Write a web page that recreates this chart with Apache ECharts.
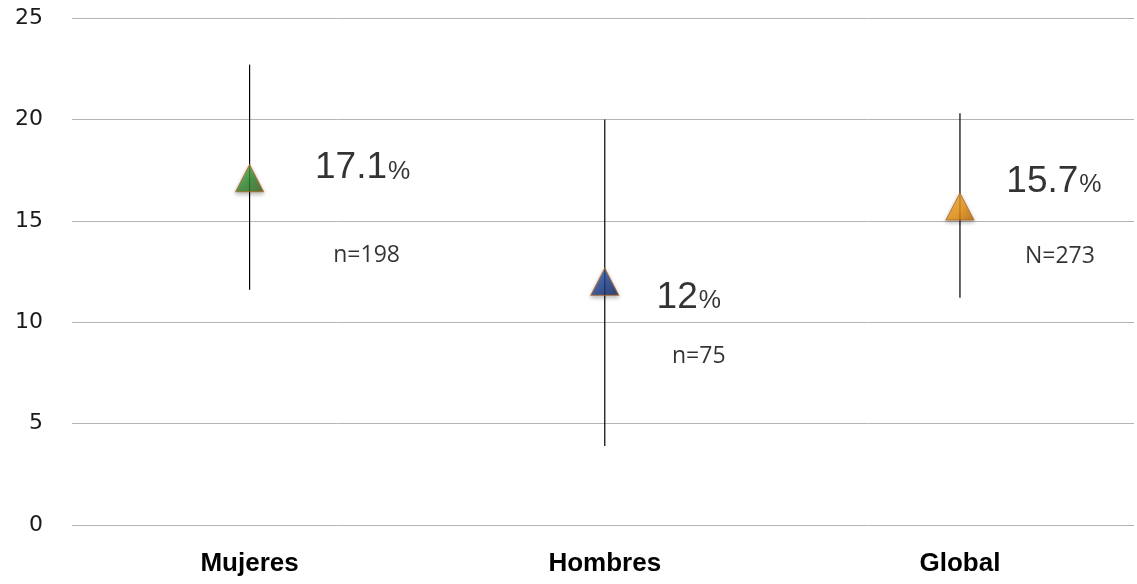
<!DOCTYPE html>
<html><head><meta charset="utf-8">
<script src="https://cdn.jsdelivr.net/npm/echarts@6/dist/echarts.min.js"></script>
<style>html,body{margin:0;padding:0;background:#fff}#c{width:1137px;height:584px}</style>
</head><body><div id="c"></div>
<script>
var categories = ['Mujeres', 'Hombres', 'Global'];
var values = [17.1, 12, 15.7];
var lower = [11.6, 3.9, 11.2];
var upper = [22.7, 20.0, 20.3];
var valueLabels = ['17.1', '12', '15.7'];
var nLabels = ['n=198', 'n=75', 'N=273'];
var yTicks = [0, 5, 10, 15, 20, 25];

var colors = [
  ['#6fd06f', '#2e8a2e', '#3b5a1a'],
  ['#4a78c8', '#1d3f8c', '#0f2256'],
  ['#ffc050', '#f0960f', '#b86a05']
];
var pctOffsets = [[113, -10], [84, 16], [94, -25]];
var nOffsets = [[117, 77], [94, 75], [100, 50]];

var chart = echarts.init(document.getElementById('c'));
chart.setOption({
  animation: false,
  grid: {left: 72, top: 18, right: 0, bottom: 59},
  xAxis: {
    type: 'value', min: -0.5, max: 2.49, interval: 0.5,
    axisLine: {show: false}, axisTick: {show: false}, splitLine: {show: false},
    axisLabel: {fontFamily: 'Liberation Sans', fontWeight: 'bold', fontSize: 26, color: '#000', margin: 26,
      showMinLabel: true, showMaxLabel: true,
      formatter: function (v) {
        var i = Math.round(v);
        return (Math.abs(v - i) < 1e-6 && categories[i] !== undefined) ? categories[i] : '';
      }}
  },
  yAxis: {
    type: 'value', min: 0, max: 25, interval: 5,
    axisLine: {show: false}, axisTick: {show: false},
    splitLine: {lineStyle: {color: '#b4b4b4', width: 1}},
    axisLabel: {fontFamily: 'DejaVu Sans', fontSize: 22, color: '#1a1a1a', margin: 29,
      formatter: function (v) { return yTicks.indexOf(v) >= 0 ? String(v) : ''; }}
  },
  series: [
    {
      type: 'custom',
      data: categories.map(function (c, i) { return [i, lower[i], upper[i]]; }),
      renderItem: function (params, api) {
        var lo = api.coord([api.value(0), api.value(1)]);
        var hi = api.coord([api.value(0), api.value(2)]);
        return {type: 'line', shape: {x1: lo[0], y1: lo[1], x2: hi[0], y2: hi[1]},
          style: {stroke: '#000', lineWidth: 1.2}};
      },
      z: 1
    },
    {
      type: 'scatter',
      symbol: 'triangle', symbolSize: [28, 27],
      z: 3,
      data: values.map(function (v, i) {
        return {
          value: [i, v],
          itemStyle: {
            color: new echarts.graphic.LinearGradient(0, 0, 1, 1, [
              {offset: 0, color: colors[i][0]}, {offset: 0.55, color: colors[i][1]}, {offset: 1, color: colors[i][2]}
            ]),
            borderColor: '#b5651d', borderWidth: 1,
            shadowColor: 'rgba(0,0,0,0.35)', shadowBlur: 4, shadowOffsetY: 2
          },
          label: {
            show: true, position: 'inside', offset: pctOffsets[i],
            formatter: '{a|' + valueLabels[i] + '}{b|%}',
            rich: {
              a: {fontFamily: 'Liberation Sans', fontSize: 37, color: '#000'},
              b: {fontFamily: 'Liberation Sans', fontSize: 25, color: '#000', padding: [7, 0, 0, 1]}
            }
          }
        };
      })
    },
    {
      type: 'scatter', symbolSize: 0, silent: true,
      data: values.map(function (v, i) {
        return {
          value: [i, v],
          label: {
            show: true, position: 'inside', offset: nOffsets[i],
            formatter: nLabels[i],
            fontFamily: 'Open Sans', fontSize: 23, color: '#000'
          }
        };
      })
    }
  ]
});
</script></body></html>
